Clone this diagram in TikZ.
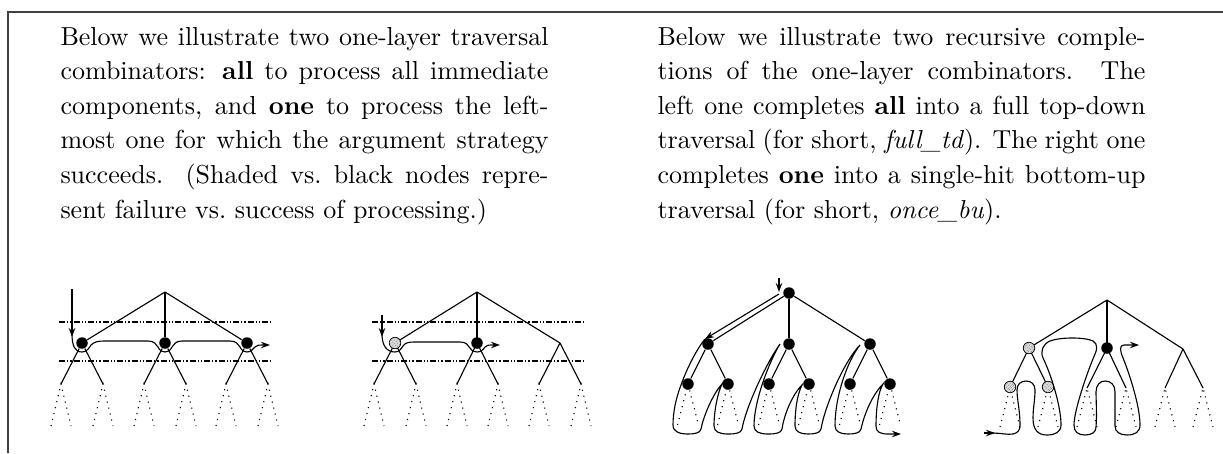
\documentclass[tikz,border=0pt]{standalone}
\usetikzlibrary{arrows.meta,patterns.meta}
\newlength\colw
\setlength\colw{195.2pt}
\newcommand\jl[1]{\hbox to \colw{#1}}
\begin{document}
\begin{tikzpicture}[x=0.4pt,y=-0.4pt,
  edge/.style={line width=0.45pt},
  leaf/.style={dotted,line width=0.45pt},
  layer/.style={line width=0.75pt,dash pattern=on 2.4pt off 0.8pt on 0.5pt off 0.8pt on 0.5pt off 0.8pt},
  hit/.style={circle,fill=black,inner sep=0pt,minimum size=4.6pt},
  miss/.style={circle,draw=black,fill=gray!25,line width=0.3pt,inner sep=0pt,minimum size=4.6pt,
    postaction={pattern={Lines[angle=45,distance=0.9pt,line width=0.25pt]},pattern color=black!70}},
  vtx/.style={coordinate},
  trav/.style={line width=0.45pt},
  tipped/.style={-{Stealth[length=3.6pt,width=2.6pt]}},
  para/.style={anchor=base west,inner sep=0pt,font=\fontsize{10.4}{13.84}\selectfont}]
\useasboundingbox (0,0) rectangle (1223,453);
% frame
\draw[line width=0.6pt,black!75] (8,453) -- (8,12) -- (1223,12);
% texts
\node[para] (tleft) at (60,45) {\vtop{%
\jl{Below we illustrate two one-layer traversal}
\jl{combinators: \textbf{all} to process all immediate}
\jl{components, and \textbf{one} to process the left-}
\jl{most one for which the argument strategy}
\jl{succeeds. (Shaded vs.\ black nodes repre-}
\hbox{sent failure vs.\ success of processing.)}}};
\node[para] (tright) at (657,45) {\vtop{%
\jl{Below we illustrate two recursive comple-}
\jl{tions of the one-layer combinators. The}
\jl{left one completes \textbf{all} into a full top-down}
\jl{traversal (for short, \textit{full\_td}). The right one}
\jl{completes \textbf{one} into a single-hit bottom-up}
\hbox{traversal (for short, \textit{once\_bu}).}}};

% ===== Diagram 1: all =====
\draw[layer] (59,322) -- (271,322);
\draw[layer] (59,361) -- (271,361);
\node[vtx] (a0) at (165,292) {};
\node[hit] (a1) at (82,343) {};
\node[hit] (a2) at (165,343) {};
\node[hit] (a3) at (247,343) {};
\foreach \n/\x in {b1/61, b2/103, b3/144, b4/186, b5/226, b6/268}
  \node[vtx] (a\n) at (\x,384) {};
\draw[edge] (a0) -- (a1); \draw[edge] (a0) -- (a2); \draw[edge] (a0) -- (a3);
\draw[edge] (a1) -- (ab1); \draw[edge] (a1) -- (ab2);
\draw[edge] (a2) -- (ab3); \draw[edge] (a2) -- (ab4);
\draw[edge] (a3) -- (ab5); \draw[edge] (a3) -- (ab6);
\foreach \x in {61,103,144,186,226,268}
  \draw[leaf] ({\x-10},426) -- (\x,384) -- ({\x+10},426);
\draw[trav,tipped] (72,289) -- (72,337);
\draw[trav,tipped] (72,334) .. controls (72,346) and (75,352) .. (82,352)
  .. controls (87,352) and (89,348) .. (91,345)
  .. controls (94,342) and (98,341) .. (104,341) -- (148,341)
  .. controls (154,341) and (156,344) .. (158,347)
  .. controls (160,351) and (162,352) .. (165,352)
  .. controls (168,352) and (170,351) .. (172,347)
  .. controls (174,344) and (176,341) .. (182,341) -- (230,341)
  .. controls (236,341) and (238,344) .. (240,347)
  .. controls (242,351) and (244,352) .. (247,352)
  .. controls (251,352) and (253,349) .. (255,347)
  .. controls (257,345) and (259,345) .. (262,345) -- (270,345);

% ===== Diagram 2: one =====
\draw[layer] (372,322) -- (584,322);
\draw[layer] (372,361) -- (584,361);
\node[vtx] (o0) at (477,292) {};
\node[vtx] (o2c) at (477,343) {};
\node[vtx] (o3) at (560,343) {};
\foreach \n/\x in {b1/374, b2/416, b3/457, b4/498, b5/539, b6/581}
  \node[vtx] (o\n) at (\x,384) {};
\node[vtx] (o1c) at (395,343) {};
\draw[edge] (o0) -- (o1c); \draw[edge] (o0) -- (o2c); \draw[edge] (o0) -- (o3);
\draw[edge] (o1c) -- (ob1); \draw[edge] (o1c) -- (ob2);
\draw[edge] (o2c) -- (ob3); \draw[edge] (o2c) -- (ob4);
\draw[edge] (o3) -- (ob5); \draw[edge] (o3) -- (ob6);
\node[miss] (o1) at (o1c) {};
\node[hit] (o2) at (o2c) {};
\foreach \x in {374,416,457,498,539,581}
  \draw[leaf] ({\x-10},426) -- (\x,384) -- ({\x+10},426);
\draw[trav,tipped] (382,315) -- (382,337);
\draw[trav,tipped] (382,334) .. controls (382,346) and (387,352) .. (395,352)
  .. controls (399,352) and (401,349) .. (403,346)
  .. controls (405,343) and (408,342) .. (414,342) -- (460,342)
  .. controls (466,342) and (468,345) .. (470,348)
  .. controls (472,351) and (474,352) .. (477,352)
  .. controls (481,352) and (483,350) .. (485,347)
  .. controls (487,345) and (489,345) .. (491,345) -- (500,345);

% ===== Diagram 3: full_td =====
\node[hit] (f0) at (789,293) {};
\node[hit] (f1) at (708,344) {};
\node[hit] (f2) at (789,344) {};
\node[hit] (f3) at (870,344) {};
\node[hit] (f11) at (688,384) {};
\node[hit] (f12) at (728,384) {};
\node[hit] (f21) at (769,384) {};
\node[hit] (f22) at (809,384) {};
\node[hit] (f31) at (850,384) {};
\node[hit] (f32) at (890,384) {};
\draw[edge] (f0) -- (f1); \draw[edge] (f0) -- (f2); \draw[edge] (f0) -- (f3);
\draw[edge] (f1) -- (f11); \draw[edge] (f1) -- (f12);
\draw[edge] (f2) -- (f21); \draw[edge] (f2) -- (f22);
\draw[edge] (f3) -- (f31); \draw[edge] (f3) -- (f32);
\foreach \x in {688,728,769,809,850,890}
  \draw[leaf] ({\x-10.5},425) -- (\x,384) -- ({\x+10.5},425);
\draw[trav,tipped] (779,278) -- (779,292);
\draw[trav,tipped] (779,294) -- (705,339);
\draw[trav,tipped] (705,339) .. controls (699,346) and (688,365) .. (681,385)
  .. controls (676,398) and (673,412) .. (673,425)
  .. controls (673,432) and (680,434) .. (688,434)
  .. controls (695,434) and (700,433) .. (701,429)
  .. controls (703,418) and (712,395) .. (722,384)
  .. controls (718,392) and (714,410) .. (714,426)
  .. controls (714,432) and (720,434) .. (728,434)
  .. controls (736,434) and (741,433) .. (742,429)
  .. controls (745,410) and (765,365) .. (780,344)
  .. controls (770,360) and (754,400) .. (754,426)
  .. controls (754,432) and (760,434) .. (768,434)
  .. controls (776,434) and (781,433) .. (782,429)
  .. controls (784,415) and (792,395) .. (802,385)
  .. controls (797,395) and (795,410) .. (795,426)
  .. controls (795,432) and (801,434) .. (808,434)
  .. controls (815,434) and (820,433) .. (821,429)
  .. controls (825,405) and (845,360) .. (860,345)
  .. controls (848,360) and (835,395) .. (835,426)
  .. controls (835,432) and (841,434) .. (848,434)
  .. controls (855,434) and (860,433) .. (861,429)
  .. controls (864,415) and (872,395) .. (883,384)
  .. controls (878,392) and (876,410) .. (876,426)
  .. controls (876,432) and (880,434) .. (888,434) -- (901,434);

% ===== Diagram 4: once_bu =====
\node[vtx] (u0) at (1107,300) {};
\node[vtx] (u1c) at (1029,348) {};
\node[vtx] (u2c) at (1107,348) {};
\node[vtx] (u3) at (1183,349) {};
\node[vtx] (u11c) at (1010,387) {};
\node[vtx] (u12c) at (1048,387) {};
\node[vtx] (u21) at (1087,388) {};
\node[vtx] (u22) at (1126,388) {};
\node[vtx] (u31) at (1165,388) {};
\node[vtx] (u32) at (1203,388) {};
\draw[edge] (u0) -- (u1c); \draw[edge] (u0) -- (u2c); \draw[edge] (u0) -- (u3);
\draw[edge] (u1c) -- (u11c); \draw[edge] (u1c) -- (u12c);
\draw[edge] (u2c) -- (u21); \draw[edge] (u2c) -- (u22);
\draw[edge] (u3) -- (u31); \draw[edge] (u3) -- (u32);
\foreach \x in {1010,1048,1087,1126,1165,1203}
  \draw[leaf] ({\x-10},427) -- (\x,388) -- ({\x+10},427);
\node[miss] (u1) at (u1c) {};
\node[hit] (u2) at (u2c) {};
\node[miss] (u11) at (u11c) {};
\node[miss] (u12) at (u12c) {};
\draw[trav,tipped] (984,433) -- (995,433);
\draw[trav,tipped] (993,433) .. controls (1000,433) and (1008,435) .. (1013,434)
  .. controls (1018,433) and (1020,430) .. (1020,425)
  .. controls (1020,410) and (1017,400) .. (1017,390)
  .. controls (1017,384) and (1021,381) .. (1026,381)
  .. controls (1031,381) and (1035,384) .. (1035,390)
  .. controls (1035,400) and (1033,408) .. (1033,418)
  .. controls (1033,430) and (1038,435) .. (1047,435)
  .. controls (1055,435) and (1061,432) .. (1061,425)
  .. controls (1061,405) and (1050,372) .. (1043,358)
  .. controls (1040,351) and (1043,344) .. (1050,341)
  .. controls (1060,337) and (1085,337) .. (1093,341)
  .. controls (1098,344) and (1097,350) .. (1095,354)
  .. controls (1088,370) and (1074,410) .. (1074,425)
  .. controls (1074,432) and (1078,435) .. (1085,435)
  .. controls (1092,435) and (1096,432) .. (1096,427)
  .. controls (1097,415) and (1096,400) .. (1096,392)
  .. controls (1096,385) and (1100,381) .. (1105,381)
  .. controls (1111,381) and (1115,385) .. (1115,392) -- (1115,426)
  .. controls (1115,432) and (1120,435) .. (1127,435)
  .. controls (1135,435) and (1140,432) .. (1140,425)
  .. controls (1140,405) and (1128,370) .. (1123,358)
  .. controls (1120,351) and (1119,345) .. (1124,345) -- (1139,345);
\end{tikzpicture}
\end{document}
